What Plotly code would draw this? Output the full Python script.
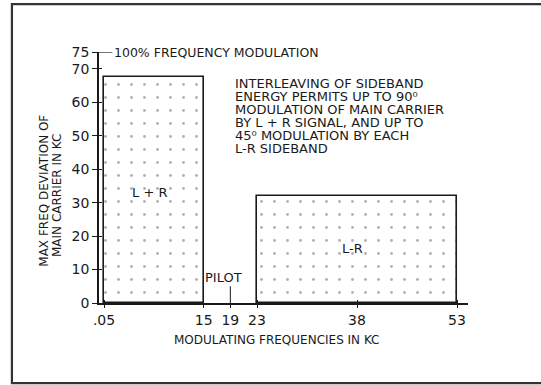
import plotly.graph_objects as go

# bands of the stereo FM baseband (kc) and max deviation of main carrier (kc)
band_names = ["L + R", "L-R"]
band_lo = [0.05, 23]
band_hi = [15, 53]
band_dev = [67.5, 32]

pilot_freq = 19
pilot_dev = 5
full_mod = 75

x_ticks = [0.05, 15, 19, 23, 38, 53]
x_ticktext = [".05", "15", "19", "23", "38", "53"]
y_ticks = [0, 10, 20, 30, 40, 50, 60, 70, 75]

note_lines = [
    "INTERLEAVING OF SIDEBAND",
    "ENERGY PERMITS UP TO 90⁰",
    "MODULATION OF MAIN CARRIER",
    "BY L + R SIGNAL, AND UP TO",
    "45⁰ MODULATION BY EACH",
    "L-R SIDEBAND",
]

FONT = "DejaVu Sans, sans-serif"
INK = "#1a1a1a"

centers = [(a + b) / 2 for a, b in zip(band_lo, band_hi)]
widths = [b - a for a, b in zip(band_lo, band_hi)]

fig = go.Figure()
fig.add_trace(go.Bar(
    x=centers, y=band_dev, width=widths,
    marker=dict(color="white", line=dict(color=INK, width=1.6),
                pattern=dict(shape=".", fgcolor="#666", size=13, solidity=0.04)),
    showlegend=False, hoverinfo="skip",
))
fig.add_trace(go.Scatter(
    x=[pilot_freq, pilot_freq], y=[0, pilot_dev], mode="lines",
    line=dict(color=INK, width=1), showlegend=False, xaxis="x2", yaxis="y2",
    hoverinfo="skip",
))

xr = [-0.7, 54.65]
yr = [0, 75]
axis_common = dict(showgrid=False, zeroline=False, linecolor=INK, linewidth=1.5,
                   tickcolor=INK, tickwidth=1.2)

fig.update_layout(
    width=541, height=385,
    margin=dict(l=99, r=73, t=52, b=82),
    plot_bgcolor="white", paper_bgcolor="white",
    font=dict(family=FONT, color=INK, size=13),
    bargap=0,
    xaxis=dict(range=xr, tickvals=x_ticks, ticktext=x_ticktext, ticks="outside",
               ticklen=3, showline=True, tickfont=dict(size=14), **axis_common),
    yaxis=dict(range=yr, tickvals=y_ticks, ticks="outside", ticklen=5,
               showline=True, tickfont=dict(size=14), **axis_common),
    xaxis2=dict(range=xr, overlaying="x", tickvals=[0.05, 15, 23, 38, 53], ticks="inside",
                ticklen=3, showticklabels=False, showline=False, **axis_common),
    yaxis2=dict(range=yr, overlaying="y", tickvals=y_ticks[:-1], ticks="inside",
                ticklen=3, showticklabels=False, showline=False, **axis_common),
)

# 100 % modulation marker
fig.add_shape(type="line", x0=xr[0], x1=1.3, y0=full_mod, y1=full_mod,
              line=dict(color=INK, width=1.2))
fig.add_annotation(x=1.2, y=full_mod, text="100% FREQUENCY MODULATION", showarrow=False,
                   xanchor="left", yanchor="middle", font=dict(size=12.5))

# band labels
fig.add_annotation(x=6.9, y=33, text=band_names[0], showarrow=False, font=dict(size=13))
fig.add_annotation(x=37.3, y=16.3, text=band_names[1], showarrow=False, font=dict(size=13))
fig.add_annotation(x=18.0, y=7.6, text="PILOT", showarrow=False, font=dict(size=13))

for i, line in enumerate(note_lines):
    fig.add_annotation(xref="paper", yref="paper", x=0.363, y=0.874 - i * 0.052,
                       text=line, showarrow=False, xanchor="left", yanchor="middle",
                       font=dict(size=13))

# axis titles
fig.add_annotation(xref="paper", yref="paper", x=0.482, y=-0.148,
                   text="MODULATING FREQUENCIES IN KC", showarrow=False,
                   xanchor="center", yanchor="middle", font=dict(size=12))
fig.add_annotation(xref="paper", yref="paper", x=-0.150, y=0.446,
                   text="MAX FREQ DEVIATION OF", showarrow=False, textangle=-90,
                   xanchor="center", yanchor="middle", font=dict(size=12))
fig.add_annotation(xref="paper", yref="paper", x=-0.114, y=0.43,
                   text="MAIN CARRIER IN KC", showarrow=False, textangle=-90,
                   xanchor="center", yanchor="middle", font=dict(size=12))

# outer frame of the figure (left, top, bottom; right edge is cut off)
fig.add_shape(type="path", xref="paper", yref="paper",
              path="M 1.5,1.191 L -0.236,1.191 L -0.236,-0.319 L 1.5,-0.319",
              line=dict(color="#333", width=2.2), layer="below")

fig.write_html("out.html", config={"displayModeBar": False},
               post_script="document.body.style.margin='0';")
